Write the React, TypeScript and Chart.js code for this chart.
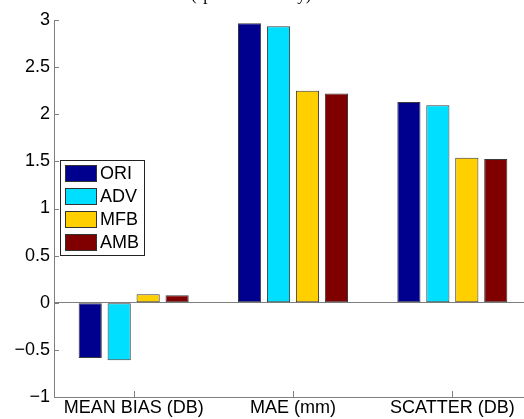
import React, { useEffect, useRef } from "react";
import { Chart, registerables } from "chart.js";

Chart.register(...registerables);

const categories = ["MEAN BIAS (DB)", "MAE (mm)", "SCATTER (DB)"];
const seriesNames = ["ORI", "ADV", "MFB", "AMB"];
const oriValues = [-0.585, 2.965, 2.13];
const advValues = [-0.61, 2.935, 2.095];
const mfbValues = [0.09, 2.25, 1.538];
const ambValues = [0.08, 2.22, 1.525];
const seriesColors = ["#00008F", "#00DFFF", "#FFCF00", "#800000"];
const yTickValues = [-1, -0.5, 0, 0.5, 1, 1.5, 2, 2.5, 3];
const yTickLabels = ["\u22121", "\u22120.5", "0", "0.5", "1", "1.5", "2", "2.5", "3"];
const titleText = "(spatial accuracy)";

const FONT = "'Liberation Sans', Arial, Helvetica, sans-serif";
const AXIS_GRAY = "#7f7f7f";

const inwardTicks = {
  id: "inwardTicks",
  afterDraw(chart: any) {
    const ctx = chart.ctx;
    const area = chart.chartArea;
    const x = chart.scales.x;
    const y = chart.scales.y;
    ctx.save();
    ctx.strokeStyle = AXIS_GRAY;
    ctx.lineWidth = 1;
    ctx.beginPath();
    yTickValues.forEach((v) => {
      const py = Math.round(y.getPixelForValue(v)) + 0.5;
      ctx.moveTo(area.left, py);
      ctx.lineTo(area.left + 5, py);
    });
    categories.forEach((_c, i) => {
      const px = Math.round(x.getPixelForTick(i)) + 0.5;
      ctx.moveTo(px, area.bottom);
      ctx.lineTo(px, area.bottom - 6);
    });
    ctx.stroke();
    ctx.restore();
  },
};

const boxLegend = {
  id: "boxLegend",
  afterDraw(chart: any) {
    const ctx = chart.ctx;
    const ds = chart.data.datasets;
    const bx = 60.5, by = 160.5, bw = 84, bh = 95;
    ctx.save();
    ctx.fillStyle = "#ffffff";
    ctx.fillRect(bx, by, bw, bh);
    ctx.strokeStyle = "#222";
    ctx.lineWidth = 1;
    ctx.strokeRect(bx, by, bw, bh);
    ctx.font = `18px ${FONT}`;
    ctx.textBaseline = "middle";
    ctx.textAlign = "left";
    ds.forEach((d: any, i: number) => {
      const cy = 173.3 + i * 22.8;
      ctx.fillStyle = d.backgroundColor;
      ctx.fillRect(65, Math.round(cy - 8), 31, 16);
      ctx.strokeStyle = "#333";
      ctx.strokeRect(65.5, Math.round(cy - 8) + 0.5, 31, 16);
      ctx.fillStyle = "#000";
      ctx.fillText(d.label, 100, cy + 1);
    });
    ctx.restore();
  },
};

const topTitle = {
  id: "topTitle",
  afterDraw(chart: any) {
    const ctx = chart.ctx;
    ctx.save();
    ctx.font = "17px 'Liberation Serif', 'Times New Roman', serif";
    ctx.fillStyle = "#000";
    ctx.textAlign = "left";
    ctx.textBaseline = "alphabetic";
    ctx.fillText(titleText, 191, 0);
    ctx.restore();
  },
};

export default function App() {
  const canvasRef = useRef<HTMLCanvasElement | null>(null);

  useEffect(() => {
    const canvas = canvasRef.current;
    if (!canvas) return;
    const valueSets = [oriValues, advValues, mfbValues, ambValues];
    const chart = new Chart(canvas, {
      type: "bar",
      data: {
        labels: categories,
        datasets: seriesNames.map((name, i) => ({
          label: name,
          data: valueSets[i],
          backgroundColor: seriesColors[i],
          borderColor: "#3a3a3a",
          borderWidth: 1,
          borderSkipped: false,
          categoryPercentage: 0.727,
          barPercentage: 0.8,
        })),
      },
      options: {
        responsive: false,
        animation: false,
        devicePixelRatio: 1,
        layout: { padding: { left: 0, top: 20, right: 8, bottom: 0 } },
        plugins: {
          legend: { display: false },
          tooltip: { enabled: false },
          title: { display: false },
        },
        scales: {
          x: {
            type: "category",
            offset: true,
            grid: { display: false, drawTicks: false },
            border: { display: true, color: AXIS_GRAY, width: 1 },
            ticks: {
              color: "#000",
              font: { family: FONT, size: 18 },
              padding: 0,
              maxRotation: 0,
              autoSkip: false,
            },
            afterFit: (s: any) => {
              s.height = 22;
            },
          },
          y: {
            min: -1,
            max: 3,
            grid: {
              drawTicks: false,
              color: (c: any) => (c.tick && c.tick.value === 0 ? AXIS_GRAY : "rgba(0,0,0,0)"),
              lineWidth: 1,
            },
            border: { display: true, color: AXIS_GRAY, width: 1 },
            afterBuildTicks: (s: any) => {
              s.ticks = yTickValues.map((v) => ({ value: v }));
            },
            ticks: {
              color: "#000",
              font: { family: FONT, size: 18 },
              padding: 4,
              callback: (v: any) => {
                const idx = yTickValues.indexOf(Number(v));
                return idx >= 0 ? yTickLabels[idx] : "";
              },
            },
            afterFit: (s: any) => {
              s.width = 54;
            },
          },
        },
      },
      plugins: [inwardTicks, boxLegend, topTitle],
    });
    return () => chart.destroy();
  }, []);

  return (
    <div
      style={{
        position: "fixed",
        left: 0,
        top: 0,
        width: 524,
        height: 419,
        overflow: "hidden",
        background: "#fff",
      }}
    >
      <canvas ref={canvasRef} width={540} height={419} style={{ display: "block", width: 540, height: 419 }} />
    </div>
  );
}
